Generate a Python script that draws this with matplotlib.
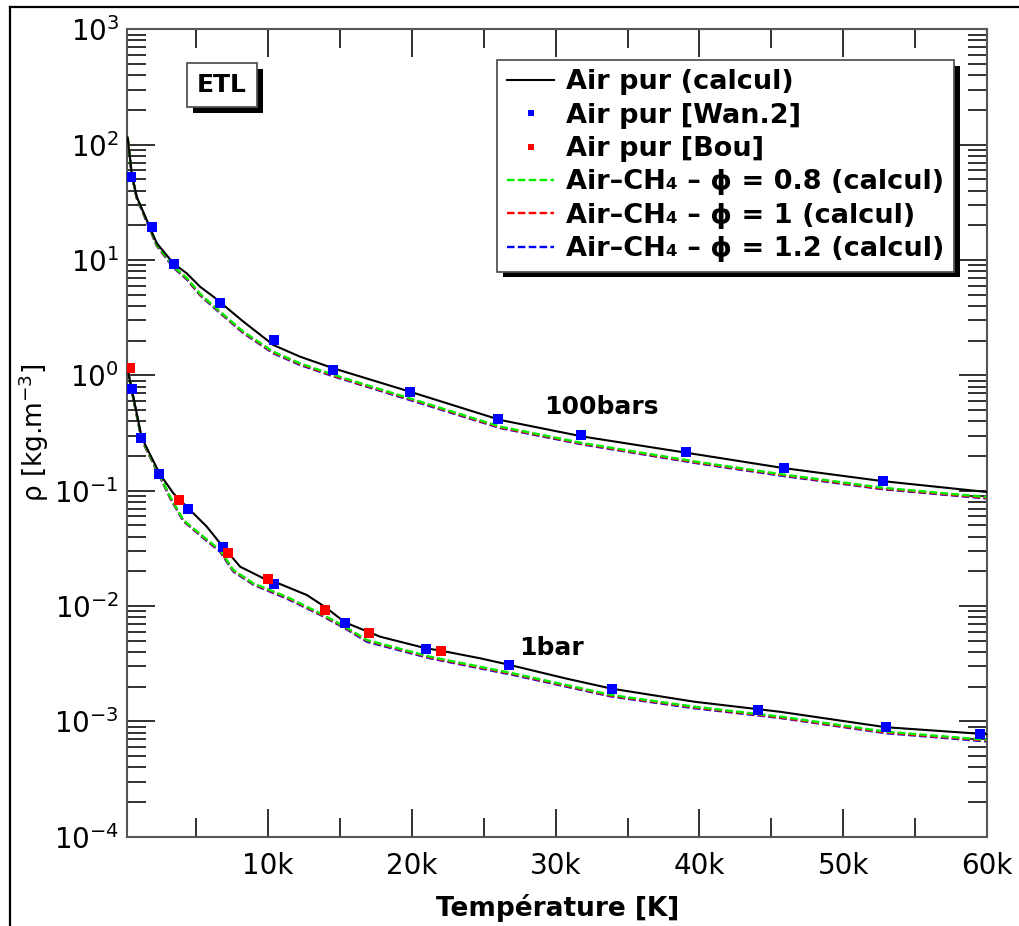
import matplotlib
matplotlib.use("Agg")
import matplotlib.pyplot as plt
import matplotlib.patheffects as pe
from matplotlib.lines import Line2D
from matplotlib.ticker import FixedLocator, LogLocator, NullFormatter

# --- data (T in K, rho in kg/m3) ---
# pure air, computed, 100 bar
T_air_100 = [228, 506, 854, 1550, 2247, 3403, 4335, 5261, 6187, 8276, 10365,
             12224, 14542, 19882, 26148, 31926, 40072, 45850, 52740, 60000]
rho_air_100 = [115, 56.4, 35.4, 22.2, 14.0, 9.35, 7.66, 5.86, 4.81, 2.92, 1.83,
               1.45, 1.15, 0.72, 0.41, 0.294, 0.204, 0.157, 0.121, 0.0973]

# pure air, computed, 1 bar
T_air_1 = [228, 506, 1202, 2456, 3403, 4447, 5728, 6654, 8054, 8973, 9905,
           10831, 12690, 13963, 15357, 17790, 20975, 22020, 24750, 26725,
           30666, 33900, 39640, 45620, 52950, 60000]
rho_air_1 = [1.12, 0.76, 0.288, 0.14, 0.0948, 0.0703, 0.0488, 0.035, 0.0219,
             0.0192, 0.0168, 0.0155, 0.01245, 0.0098, 0.0072, 0.00542, 0.0043,
             0.0041, 0.00352, 0.0031, 0.00236, 0.00192, 0.00148, 0.00121,
             0.00089, 0.000773]

# air-CH4 mixtures, 100 bar
T_ch4_100 = [228, 506, 854, 1550, 2247, 3403, 4335, 5261, 6187, 8276, 10365,
             12224, 14542, 19882, 26148, 31926, 40072, 45850, 52740, 60000]
rho_phi08_100 = [115, 56, 35, 22, 13.6, 8.8, 7.0, 5.1, 4.0, 2.39, 1.60,
                 1.27, 1.01, 0.63, 0.359, 0.258, 0.176, 0.138, 0.106, 0.088]
rho_phi1_100 = [114, 55.5, 34.6, 21.7, 13.4, 8.7, 6.9, 5.0, 3.95, 2.35, 1.57,
                1.25, 0.99, 0.62, 0.353, 0.254, 0.173, 0.136, 0.104, 0.0865]
rho_phi12_100 = [113, 55, 34.3, 21.5, 13.3, 8.6, 6.8, 4.95, 3.9, 2.32, 1.55,
                 1.23, 0.98, 0.61, 0.349, 0.251, 0.171, 0.134, 0.103, 0.0855]

# air-CH4 mixtures, 1 bar
T_ch4_1 = [228, 506, 1202, 2456, 3173, 4099, 5492, 6654, 7580, 8973, 11297,
           13616, 15357, 16867, 21276, 27073, 33900, 39640, 45620, 52950, 60000]
rho_phi08_1 = [1.10, 0.75, 0.28, 0.136, 0.0887, 0.0557, 0.0399, 0.0305, 0.0205,
               0.0157, 0.0120, 0.00865, 0.0066, 0.00507, 0.00363, 0.0026,
               0.00169, 0.00134, 0.0011, 0.000815, 0.00069]
rho_phi1_1 = [1.09, 0.745, 0.277, 0.134, 0.0875, 0.055, 0.0393, 0.0300, 0.0202,
              0.0155, 0.0118, 0.0085, 0.0065, 0.0050, 0.00357, 0.00256,
              0.00166, 0.00132, 0.00108, 0.0008, 0.00068]
rho_phi12_1 = [1.08, 0.74, 0.275, 0.133, 0.0865, 0.0545, 0.0388, 0.0296, 0.0199,
               0.0153, 0.0116, 0.0084, 0.0064, 0.0049, 0.00352, 0.00252,
               0.00164, 0.0013, 0.00107, 0.00079, 0.00067]

# reference data points
wan_100_T = [458, 1920, 3450, 6675, 10390, 14520, 19860, 25990, 31790, 39030, 45850, 52740]
wan_100_rho = [52.3, 19.3, 9.23, 4.21, 2.01, 1.11, 0.722, 0.416, 0.302, 0.215, 0.157, 0.121]
wan_1_T = [506, 1154, 2428, 4447, 6842, 10413, 15357, 20975, 26725, 33900, 44070, 52950, 59500]
wan_1_rho = [0.76, 0.288, 0.139, 0.0688, 0.0327, 0.0155, 0.00708, 0.00422, 0.00308,
             0.0019, 0.00126, 0.000894, 0.000772]
bou_1_T = [390, 3820, 7211, 10016, 13963, 16980, 22020]
bou_1_rho = [1.16, 0.0824, 0.029, 0.0170, 0.00923, 0.00587, 0.00407]

xticks = [10000, 20000, 30000, 40000, 50000, 60000]
xtick_labels = ["10k", "20k", "30k", "40k", "50k", "60k"]
xminor = [5000, 15000, 25000, 35000, 45000, 55000]
yticks = [1e-4, 1e-3, 1e-2, 1e-1, 1e0, 1e1, 1e2, 1e3]
ytick_labels = ["$10^{-4}$", "$10^{-3}$", "$10^{-2}$", "$10^{-1}$",
                "$10^{0}$", "$10^{1}$", "$10^{2}$", "$10^{3}$"]

labels = ["Air pur (calcul)", "Air pur [Wan.2]", "Air pur [Bou]",
          "Air\u2013CH\u2084 \u2013 \u03d5 = 0.8 (calcul)",
          "Air\u2013CH\u2084 \u2013 \u03d5 = 1 (calcul)",
          "Air\u2013CH\u2084 \u2013 \u03d5 = 1.2 (calcul)"]

W, H = 1019, 926
fig = plt.figure(figsize=(W / 100, H / 100), dpi=100)
ax = fig.add_axes([127.3 / W, (H - 836.7) / H, 859.7 / W, 807.4 / H])

dash = (0, (3.2, 1.4))
lw = 1.7
# colored mixtures first, green on top
ax.plot(T_ch4_100, rho_phi12_100, color="#0000ff", lw=lw, ls=dash, zorder=2)
ax.plot(T_ch4_1, rho_phi12_1, color="#0000ff", lw=lw, ls=dash, zorder=2)
ax.plot(T_ch4_100, rho_phi1_100, color="#ff0000", lw=lw, ls=dash, zorder=2.1)
ax.plot(T_ch4_1, rho_phi1_1, color="#ff0000", lw=lw, ls=dash, zorder=2.1)
ax.plot(T_ch4_100, rho_phi08_100, color="#00ee00", lw=lw, ls=dash, zorder=2.2)
ax.plot(T_ch4_1, rho_phi08_1, color="#00ee00", lw=lw, ls=dash, zorder=2.2)

ax.plot(T_air_100, rho_air_100, color="black", lw=1.5, zorder=3)
ax.plot(T_air_1, rho_air_1, color="black", lw=1.5, zorder=3)

ms = 6.5
ax.plot(wan_100_T, wan_100_rho, ls="none", marker="s", ms=ms, mew=0, color="#0000ff", zorder=5)
ax.plot(wan_1_T, wan_1_rho, ls="none", marker="s", ms=ms, mew=0, color="#0000ff", zorder=5)
ax.plot(bou_1_T, bou_1_rho, ls="none", marker="s", ms=ms, mew=0, color="#ff0000", zorder=5)

ax.set_yscale("log")
ax.set_xlim(200, 60000)
ax.set_ylim(1e-4, 1e3)

ax.xaxis.set_major_locator(FixedLocator(xticks))
ax.set_xticklabels(xtick_labels)
ax.xaxis.set_minor_locator(FixedLocator(xminor))
ax.yaxis.set_major_locator(FixedLocator(yticks))
ax.set_yticklabels(ytick_labels)
ax.yaxis.set_minor_locator(LogLocator(base=10, subs=range(2, 10), numticks=20))
ax.yaxis.set_minor_formatter(NullFormatter())

ax.tick_params(which="both", direction="in", top=True, right=True,
               color="#202020", width=1.3)
ax.tick_params(which="major", length=20.5)
ax.tick_params(which="minor", length=13.5)
ax.tick_params(axis="x", which="major", labelsize=20, pad=11)
ax.tick_params(axis="y", which="major", labelsize=20, pad=6)
for sp in ax.spines.values():
    sp.set_color("#555555")
    sp.set_linewidth(1.5)

ax.set_xlabel("Température [K]", fontsize=19, fontweight="bold", labelpad=10)
ax.set_ylabel("\u03c1 [kg.m$^{-3}$]", fontsize=19, labelpad=2)

# legend
handles = [
    Line2D([], [], color="black", lw=1.5),
    Line2D([], [], ls="none", marker="s", ms=5, mew=0, color="#0000ff"),
    Line2D([], [], ls="none", marker="s", ms=5, mew=0, color="#ff0000"),
    Line2D([], [], color="#00ee00", lw=lw, ls=dash),
    Line2D([], [], color="#ff0000", lw=lw, ls=dash),
    Line2D([], [], color="#0000ff", lw=lw, ls=dash),
]
leg = ax.legend(handles, labels, loc="upper right", bbox_to_anchor=(0.962, 0.962),
                borderaxespad=0, fancybox=False, framealpha=1, numpoints=1,
                prop={"size": 19.5, "weight": "bold"}, labelspacing=0.27,
                handlelength=1.75, handletextpad=0.45, borderpad=0.35)
frame = leg.get_frame()
frame.set_edgecolor("#555555")
frame.set_linewidth(1.3)
frame.set_path_effects([pe.SimplePatchShadow(offset=(4.3, -4.3), shadow_rgbFace="black", alpha=1),
                        pe.Normal()])
leg.set_zorder(10)

# ETL box
etl = ax.text(0.110, 0.931, "ETL", transform=ax.transAxes, ha="center", va="center",
              fontsize=18, fontweight="bold", zorder=10,
              bbox=dict(boxstyle="square,pad=0.4", fc="white", ec="#555555", lw=1.3))
etl.get_bbox_patch().set_path_effects([
    pe.SimplePatchShadow(offset=(4.3, -4.3), shadow_rgbFace="black", alpha=1), pe.Normal()])

ax.text(33180, 0.53, "100bars", ha="center", va="center", fontsize=18, fontweight="bold")
ax.text(29700, 0.00432, "1bar", ha="center", va="center", fontsize=18, fontweight="bold")

# outer frame (left and top edges of the original crop)
fig.add_artist(Line2D([10 / W, 10 / W], [0, 1 - 7 / H], color="black", lw=1.6))
fig.add_artist(Line2D([10 / W, 1], [1 - 7 / H, 1 - 7 / H], color="black", lw=1.6))

fig.savefig("out.png", dpi=100)
